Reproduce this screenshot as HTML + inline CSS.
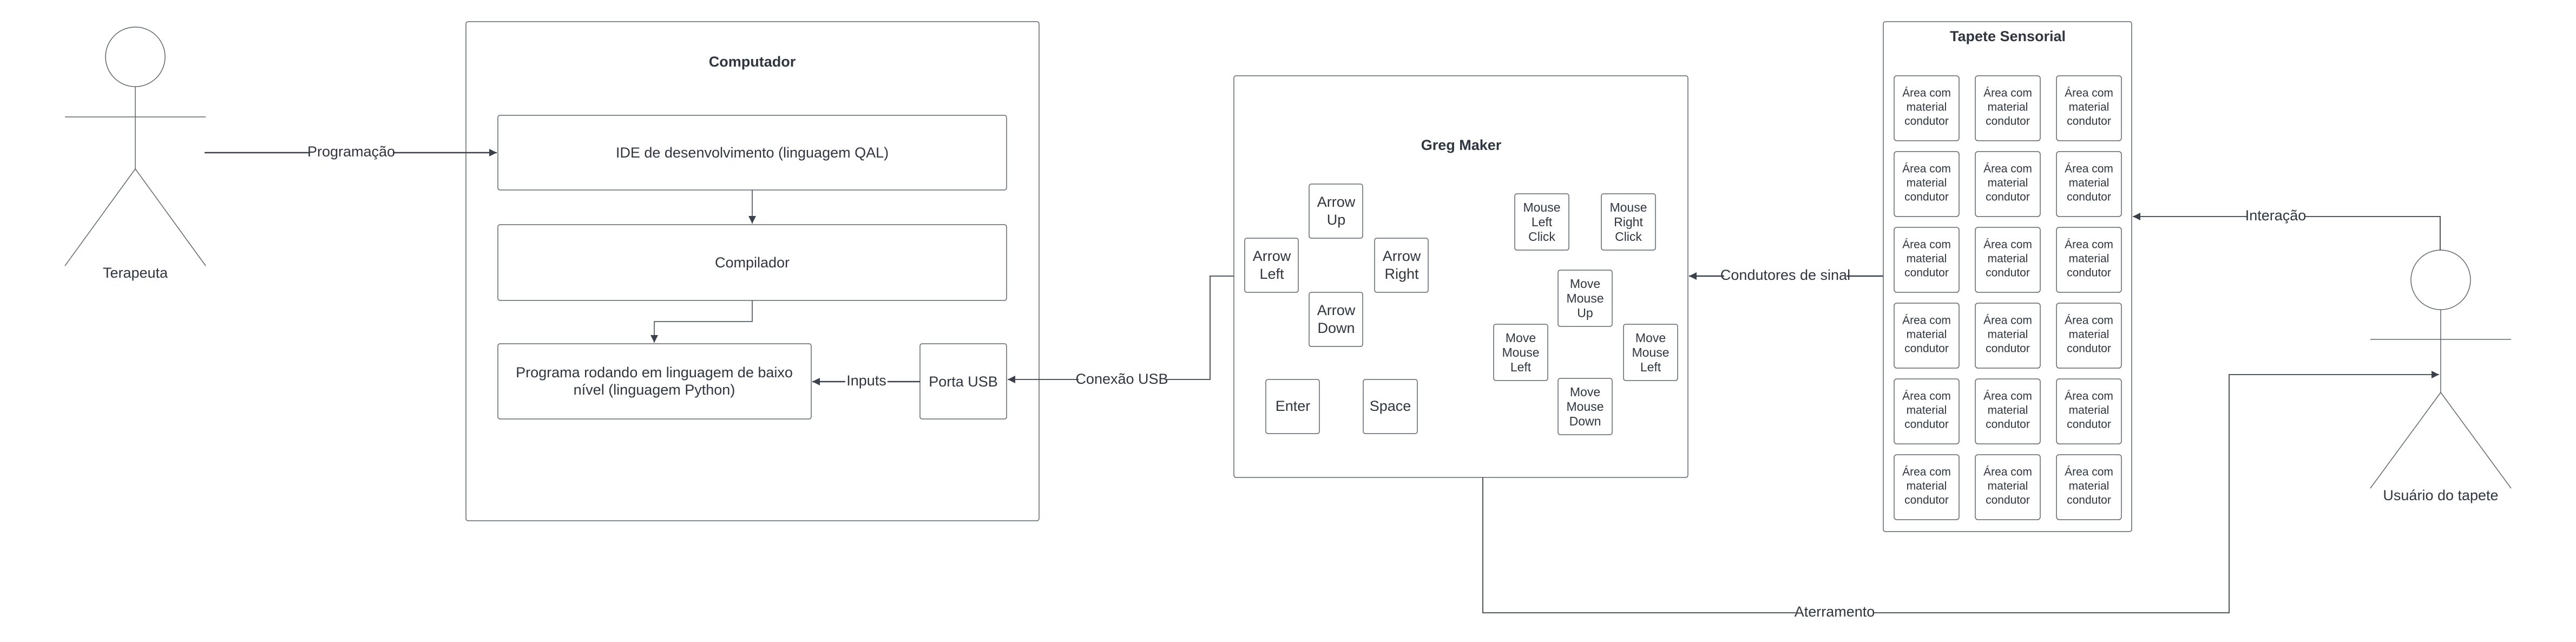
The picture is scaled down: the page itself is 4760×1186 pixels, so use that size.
<!DOCTYPE html>
<html><head><meta charset="utf-8"><style>
html,body{margin:0;padding:0;background:#fff;}
svg{display:block;font-family:"Liberation Sans",sans-serif;}
text{fill:#2f3640;text-anchor:middle;dominant-baseline:central;}
.b{fill:#fff;stroke:#5f656d;stroke-width:1.5;}
.c{fill:none;stroke:#3a414a;stroke-width:2.5;}
.lbl{font-size:27px;}
.s{font-size:21px;}
.m{font-size:23px;}
.t{font-size:27px;font-weight:bold;}
.bg{fill:#fff;stroke:none;}
</style></head><body>
<svg width="4760" height="1186" viewBox="0 0 4760 1186">
<defs><marker id="a" viewBox="0 0 10 10" refX="10" refY="5" markerWidth="6" markerHeight="6" orient="auto-start-reverse" markerUnits="userSpaceOnUse"><path d="M0,0L10,5L0,10z" fill="#3a414a" transform="scale(1)"/></marker>
<marker id="ar" viewBox="0 0 10 10" refX="10" refY="5" markerWidth="18" markerHeight="14" orient="auto" markerUnits="userSpaceOnUse"><path d="M0,0L10,5L0,10z" fill="#3a414a"/></marker></defs>

<!-- Terapeuta actor -->
<g fill="none" stroke="#5f656d" stroke-width="1.5">
<ellipse cx="250" cy="105" rx="55" ry="55"/>
<line x1="250" y1="160" x2="250" y2="312"/>
<line x1="120" y1="216" x2="380" y2="216"/>
<line x1="250" y1="312" x2="120" y2="491"/>
<line x1="250" y1="312" x2="380" y2="491"/>
</g>
<text x="250" y="504" class="lbl">Terapeuta</text>

<!-- Computador -->
<rect class="b" x="861" y="40" width="1059" height="922" rx="4"/>
<text x="1390" y="114" class="t">Computador</text>
<rect class="b" x="920" y="213" width="940" height="138" rx="4"/>
<text x="1390" y="282" class="lbl">IDE de desenvolvimento (linguagem QAL)</text>
<rect class="b" x="920" y="415" width="940" height="140" rx="4"/>
<text x="1390" y="485" class="lbl">Compilador</text>
<rect class="b" x="920" y="635" width="579" height="139" rx="4"/>
<text x="1209" y="688" class="lbl">Programa rodando em linguagem de baixo</text>
<text x="1209" y="720" class="lbl">nível (linguagem Python)</text>
<rect class="b" x="1700" y="635" width="160" height="139" rx="4"/>
<text x="1780" y="705" class="lbl">Porta USB</text>

<!-- connectors computador -->
<path class="c" d="M378 282H918" marker-end="url(#ar)"/>
<rect class="bg" x="572" y="266" width="154" height="32"/><text x="649" y="280" class="lbl">Programação</text>
<path class="c" d="M1390 351V413" marker-end="url(#ar)" style="stroke-width:1.5"/>
<path class="c" d="M1390 555V594H1209V633" marker-end="url(#ar)" style="stroke-width:1.5"/>
<path class="c" d="M1700 705H1501" marker-end="url(#ar)"/>
<rect class="bg" x="1562" y="690" width="78" height="30"/><text x="1601" y="703" class="lbl">Inputs</text>

<!-- Conexão USB -->
<path class="c" d="M2280 510H2236V701H1862" marker-end="url(#ar)" style="stroke-width:1.8"/>
<rect class="bg" x="1993" y="684" width="160" height="32"/><text x="2073" y="700" class="lbl">Conexão USB</text>

<!-- Greg Maker -->
<rect class="b" x="2280" y="140" width="839" height="742" rx="4"/>
<text x="2700" y="268" class="t">Greg Maker</text>
<rect class="b" x="2419" y="340" width="99" height="100" rx="4"/><text x="2469" y="373" class="lbl">Arrow</text><text x="2469" y="406" class="lbl">Up</text>
<rect class="b" x="2300" y="440" width="99" height="100" rx="4"/><text x="2350" y="473" class="lbl">Arrow</text><text x="2350" y="506" class="lbl">Left</text>
<rect class="b" x="2540" y="440" width="99" height="100" rx="4"/><text x="2590" y="473" class="lbl">Arrow</text><text x="2590" y="506" class="lbl">Right</text>
<rect class="b" x="2419" y="540" width="99" height="100" rx="4"/><text x="2469" y="573" class="lbl">Arrow</text><text x="2469" y="606" class="lbl">Down</text>
<rect class="b" x="2339" y="701" width="99" height="100" rx="4"/><text x="2389" y="750" class="lbl">Enter</text>
<rect class="b" x="2519" y="701" width="100" height="100" rx="4"/><text x="2569" y="750" class="lbl">Space</text>
<g class="m">
<rect class="b" x="2799" y="358" width="100" height="104" rx="4"/><text x="2849" y="383">Mouse</text><text x="2849" y="410">Left</text><text x="2849" y="437">Click</text>
<rect class="b" x="2959" y="358" width="100" height="104" rx="4"/><text x="3009" y="383">Mouse</text><text x="3009" y="410">Right</text><text x="3009" y="437">Click</text>
<rect class="b" x="2879" y="499" width="100" height="104" rx="4"/><text x="2929" y="524">Move</text><text x="2929" y="551">Mouse</text><text x="2929" y="578">Up</text>
<rect class="b" x="2760" y="599" width="100" height="104" rx="4"/><text x="2810" y="624">Move</text><text x="2810" y="651">Mouse</text><text x="2810" y="678">Left</text>
<rect class="b" x="3000" y="599" width="100" height="104" rx="4"/><text x="3050" y="624">Move</text><text x="3050" y="651">Mouse</text><text x="3050" y="678">Left</text>
<rect class="b" x="2879" y="699" width="100" height="104" rx="4"/><text x="2929" y="724">Move</text><text x="2929" y="751">Mouse</text><text x="2929" y="778">Down</text>
</g>

<!-- Condutores de sinal -->
<path class="c" d="M3480 510H3121" marker-end="url(#ar)"/>
<rect class="bg" x="3186" y="494" width="226" height="32"/><text x="3299" y="508" class="lbl">Condutores de sinal</text>

<!-- Tapete -->
<rect class="b" x="3480" y="40" width="459" height="942" rx="4"/>
<text x="3710" y="67" class="t">Tapete Sensorial</text>
<g class="s">
<g id="row">
<rect class="b" x="3500" y="140" width="120" height="120" rx="5"/><text x="3560" y="172">Área com</text><text x="3560" y="198">material</text><text x="3560" y="224">condutor</text>
<rect class="b" x="3650" y="140" width="120" height="120" rx="5"/><text x="3710" y="172">Área com</text><text x="3710" y="198">material</text><text x="3710" y="224">condutor</text>
<rect class="b" x="3800" y="140" width="120" height="120" rx="5"/><text x="3860" y="172">Área com</text><text x="3860" y="198">material</text><text x="3860" y="224">condutor</text>
</g>
<use href="#row" y="140"/><use href="#row" y="280"/><use href="#row" y="420"/><use href="#row" y="560"/><use href="#row" y="700"/>
</g>

<!-- User actor -->
<g fill="none" stroke="#5f656d" stroke-width="1.5">
<ellipse cx="4510" cy="517" rx="55" ry="55"/>
<line x1="4510" y1="572" x2="4510" y2="725"/>
<line x1="4380" y1="627" x2="4640" y2="627"/>
<line x1="4510" y1="725" x2="4380" y2="902"/>
<line x1="4510" y1="725" x2="4640" y2="902"/>
</g>
<text x="4510" y="915" class="lbl">Usuário do tapete</text>

<!-- Interação -->
<path class="c" d="M4509 462V400H3941" marker-end="url(#ar)" style="stroke-width:1.8"/>
<rect class="bg" x="4152" y="384" width="106" height="32"/><text x="4205" y="398" class="lbl">Interação</text>

<!-- Aterramento -->
<path class="c" d="M2740 882V1132H4119V692H4507" marker-end="url(#ar)" style="stroke-width:1.8"/>
<rect class="bg" x="3318" y="1116" width="144" height="32"/><text x="3390" y="1130" class="lbl">Aterramento</text>
</svg>
</body></html>
